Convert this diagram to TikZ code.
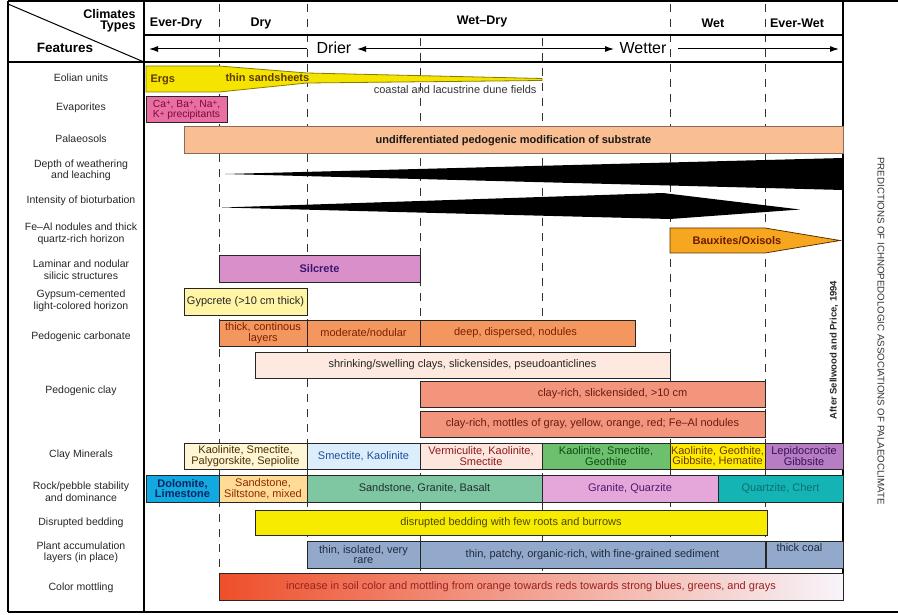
\documentclass[tikz,border=0pt]{standalone}
\usepackage{fontspec}
\setmainfont{Liberation Sans}
\usetikzlibrary{arrows.meta}
\definecolor{cErg}{HTML}{F5E300}\definecolor{bErg}{HTML}{8A7A00}\definecolor{tErg}{HTML}{5C3A00}
\definecolor{cEvap}{HTML}{E96EA1}\definecolor{tEvap}{HTML}{7A0B3A}
\definecolor{cPaleo}{HTML}{F9BE92}\definecolor{bPaleo}{HTML}{8A6A5A}
\definecolor{cBaux}{HTML}{F6A61F}\definecolor{bBaux}{HTML}{5A3000}\definecolor{tBaux}{HTML}{6B1A00}
\definecolor{cSil}{HTML}{D98FC9}\definecolor{tSil}{HTML}{3B1670}
\definecolor{cGyp}{HTML}{FFF5A5}
\definecolor{cCarb}{HTML}{F4975F}\definecolor{tCarb}{HTML}{7A1F00}
\definecolor{cShr}{HTML}{FDE9E0}
\definecolor{cCr}{HTML}{F3957D}\definecolor{tCr}{HTML}{6B1A10}
\definecolor{cCmA}{HTML}{FFF6D6}\definecolor{tCmA}{HTML}{4A3000}
\definecolor{cCmB}{HTML}{DCEEFB}\definecolor{tCmB}{HTML}{1F4E9A}
\definecolor{cCmC}{HTML}{FDE6DE}\definecolor{tCmC}{HTML}{8B1A1A}
\definecolor{cCmD}{HTML}{6DC06E}\definecolor{tCmD}{HTML}{0B4A12}
\definecolor{cCmE}{HTML}{FFEB00}\definecolor{tCmE}{HTML}{6B3A00}
\definecolor{cCmF}{HTML}{B67DC3}\definecolor{tCmF}{HTML}{3B0F5A}
\definecolor{cRkA}{HTML}{12A9E1}\definecolor{tRkA}{HTML}{0B2560}
\definecolor{cRkB}{HTML}{FFDB96}\definecolor{tRkB}{HTML}{8B2A00}
\definecolor{cRkC}{HTML}{7FC6A2}\definecolor{tRkC}{HTML}{1F2F2F}
\definecolor{cRkD}{HTML}{E5A7DA}\definecolor{tRkD}{HTML}{4B1A6B}
\definecolor{cRkE}{HTML}{14B4B4}\definecolor{tRkE}{HTML}{0E6E6E}
\definecolor{cDis}{HTML}{F7EC00}\definecolor{tDis}{HTML}{4A4A00}
\definecolor{cPl}{HTML}{93A9CB}\definecolor{tPl}{HTML}{1F2A3F}
\definecolor{mL}{HTML}{EE4F2A}\definecolor{mM}{HTML}{F4A08A}\definecolor{mR}{HTML}{F7F4FA}\definecolor{tMot}{HTML}{9A2020}
\newcommand\bxfont{\fontsize{11}{10.5}\selectfont}
\newcommand\lbfont{\fontsize{10.5}{11.5}\selectfont}
\newcommand\hdfont{\bfseries\fontsize{12.5}{11}\selectfont}
\newcommand\plussup{\raisebox{1.6pt}{\fontsize{8}{8}\selectfont +}}
\newcommand\mybox[9][]{%
  \pgfmathsetmacro\bxw{#5-#3}\pgfmathsetmacro\bxh{#6-#4}%
  \node[bar, fill=#7, text=#8, minimum width=\bxw pt, minimum height=\bxh pt, #1] (#2) at ({(#3+#5)/2},{(#4+#6)/2}) {#9};}
\tikzset{
  bar/.style={draw=black!85, line width=1pt, inner sep=0pt, align=center, font=\bxfont},
  lbl/.style={align=center, font=\lbfont, text=black!85},
  hdr/.style={font=\hdfont},
  vdash/.style={draw=black!80, line width=0.8pt, dash pattern=on 8pt off 7pt},
  frame/.style={line width=1.2pt},
  arr/.style={line width=1pt, -{Latex[length=9pt,width=6pt]}},
  darr/.style={line width=1pt, {Latex[length=9pt,width=6pt]}-{Latex[length=9pt,width=6pt]}},
}
\begin{document}
\begin{tikzpicture}[x=1pt,y=-1pt]
\useasboundingbox (0,0) rectangle (898,615);
% dashed climate boundaries
\foreach \xx in {219,307,670,765} {\draw[vdash] (\xx,4) -- (\xx,600);}
\foreach \xx in {420,542} {\draw[vdash] (\xx,38) -- (\xx,600);}
% frame
\draw[frame] (8,1) -- (898,1);
\draw[frame] (8,612) -- (898,612);
\draw[frame] (8,1) -- (8,612);
\draw[frame] (843,1) -- (843,600);
\draw[frame] (144,1) -- (144,612);
\draw[frame] (144,35) -- (843,35);
\draw[frame] (8,62) -- (843,62);
\draw[line width=1pt] (8,4) -- (144,62);
% header
\node[hdr, align=right, anchor=east] (ctypes) at (139,21) {Climates\\Types};
\node[font=\bfseries\fontsize{13.5}{14}\selectfont] (feat) at (65,48) {Features};
\node[hdr] (h1) at (176,23) {Ever-Dry};
\node[hdr] (h2) at (261,23) {Dry};
\node[hdr] (h3) at (482,21) {Wet–Dry};
\node[hdr] (h4) at (713,23) {Wet};
\node[hdr] (h5) at (797,23) {Ever-Wet};
\coordinate (a1) at (307,49); \coordinate (a2) at (149,49);
\coordinate (a3) at (357,49); \coordinate (a4) at (614,49);
\coordinate (a5) at (678,49); \coordinate (a6) at (839,49);
\draw[arr] (a1) -- (a2);
\draw[darr] (a3) -- (a4);
\draw[arr] (a5) -- (a6);
\node[font=\fontsize{16}{16}\selectfont] (drier) at (334,48) {Drier};
\node[font=\fontsize{16}{16}\selectfont] (wetter) at (643,48) {Wetter};
% row labels
\node[lbl] (l1) at (81,78) {Eolian units};
\node[lbl] (l2) at (81,108) {Evaporites};
\node[lbl] (l3) at (81,139) {Palaeosols};
\node[lbl] (l4) at (81,170.5) {Depth of weathering\\and leaching};
\node[lbl] (l5) at (81,201) {Intensity of bioturbation};
\node[lbl] (l6) at (81,234) {Fe–Al nodules and thick\\quartz-rich horizon};
\node[lbl] (l7) at (81,269.5) {Laminar and nodular\\silicic structures};
\node[lbl] (l8) at (81,301) {Gypsum-cemented\\light-colored horizon};
\node[lbl] (l9) at (81,337) {Pedogenic carbonate};
\node[lbl] (l10) at (81,391) {Pedogenic clay};
\node[lbl] (l11) at (81,455) {Clay Minerals};
\node[lbl] (l12) at (81,491.5) {Rock/pebble stability\\and dominance};
\node[lbl] (l13) at (81,523) {Disrupted bedding};
\node[lbl] (l14) at (81,552.5) {Plant accumulation\\layers (in place)};
\node[lbl] (l15) at (81,588) {Color mottling};
% eolian wedge
\draw[fill=cErg, draw=bErg, line width=0.8pt] (146,66) -- (219,66) -- (307,73) -- (542,78.5) -- (542,80.5) -- (307,83) -- (219,92) -- (146,92) -- cycle;
\node[font=\bfseries\bxfont, text=tErg, anchor=west] (ergs) at (147,80) {Ergs};
\node[font=\bfseries\bxfont, text=tErg, anchor=west] (thin) at (222,78) {thin sandsheets};
\node[font=\bxfont, text=black!80, anchor=east] (coastal) at (540,90) {coastal and lacustrine dune fields};
% boxes
\mybox[font=\fontsize{10.3}{10.5}\selectfont]{evap}{146}{97}{227}{123}{cEvap}{tEvap}{Ca\plussup, Ba\plussup, Na\plussup,\\K\plussup\ precipitants}
\mybox[draw=bPaleo]{paleo}{184}{127}{843}{154}{cPaleo}{black!90}{\textbf{undifferentiated pedogenic modification of substrate}}
% black wedges
\fill[black] (225,174) -- (843,158) -- (843,190) -- cycle;
\fill[black] (222,207.5) -- (663,193) -- (800,209.5) -- (670,219) -- cycle;
% bauxites
\draw[fill=cBaux, draw=bBaux, line width=0.8pt] (670,228) -- (765,228) -- (840,240.5) -- (765,253) -- (670,253) -- cycle;
\node[font=\bfseries\bxfont, text=tBaux] (baux) at (737,240.5) {Bauxites/Oxisols};
\mybox{sil}{219}{256}{420}{282}{cSil}{tSil}{\textbf{Silcrete}}
\mybox{gyp}{184}{288}{307}{315}{cGyp}{black!85}{Gypcrete (>10 cm thick)}
\mybox{carbA}{219}{320}{307}{346}{cCarb}{tCarb}{thick, continous\\layers}
\mybox{carbB}{307}{320}{420}{346}{cCarb}{tCarb}{moderate/nodular}
\mybox{carbC}{420}{320}{635}{346}{cCarb}{tCarb}{deep, dispersed, nodules\hspace*{24pt}}
\mybox{shr}{255}{352}{670}{378}{cShr}{black!85}{shrinking/swelling clays, slickensides, pseudoanticlines}
\mybox{crA}{420}{381}{765}{407}{cCr}{tCr}{\hspace*{40pt}clay-rich, slickensided, >10 cm}
\mybox{crB}{420}{411}{765}{437}{cCr}{tCr}{clay-rich, mottles of gray, yellow, orange, red; Fe–Al nodules}
\mybox{cmA}{184}{443}{307}{469}{cCmA}{tCmA}{Kaolinite, Smectite,\\Palygorskite, Sepiolite}
\mybox{cmB}{307}{443}{420}{469}{cCmB}{tCmB}{Smectite, Kaolinite}
\mybox{cmC}{420}{443}{542}{469}{cCmC}{tCmC}{Vermiculite, Kaolinite,\\Smectite}
\mybox{cmD}{542}{443}{670}{469}{cCmD}{tCmD}{Kaolinite, Smectite,\\Geothite}
\mybox{cmE}{670}{443}{765}{469}{cCmE}{tCmE}{Kaolinite, Geothite,\\Gibbsite, Hematite}
\mybox{cmF}{765}{443}{843}{469}{cCmF}{tCmF}{Lepidocrocite\\Gibbsite}
\mybox{rkA}{146}{475}{219}{502}{cRkA}{tRkA}{\textbf{Dolomite,}\\\textbf{Limestone}}
\mybox{rkB}{219}{475}{307}{502}{cRkB}{tRkB}{Sandstone,\\Siltstone, mixed}
\mybox{rkC}{307}{475}{542}{502}{cRkC}{tRkC}{Sandstone, Granite, Basalt}
\mybox{rkD}{542}{475}{718}{502}{cRkD}{tRkD}{Granite, Quarzite}
\mybox{rkE}{718}{475}{843}{502}{cRkE}{tRkE}{Quartzite, Chert}
\mybox{dis}{255}{510}{767}{535}{cDis}{tDis}{disrupted bedding with few roots and burrows}
\mybox{plA}{307}{541}{420}{568}{cPl}{tPl}{thin, isolated, very\\rare}
\mybox{plB}{420}{541}{765}{568}{cPl}{tPl}{thin, patchy, organic-rich, with fine-grained sediment}
\mybox{plC}{766}{541}{843}{568}{cPl}{tPl}{thick coal\hspace*{10pt}\\[4pt]}
\node[bar, left color=mL, middle color=mM, right color=mR, text=tMot, minimum width=624pt, minimum height=27pt] (mot) at (531,586.5) {increase in soil color and mottling from orange towards reds towards strong blues, greens, and grays};
% side texts
\node[rotate=90, font=\bfseries\fontsize{9.5}{10}\selectfont, text=black!85] (after) at (834,350) {After Sellwood and Price, 1994};
\node[rotate=-90, font=\fontsize{9.7}{10}\selectfont, text=black!80] (title) at (881,331) {PREDICTIONS OF ICHNOPEDOLOGIC ASSOCIATIONS OF PALAEOCLIMATE};
\end{tikzpicture}
\end{document}
